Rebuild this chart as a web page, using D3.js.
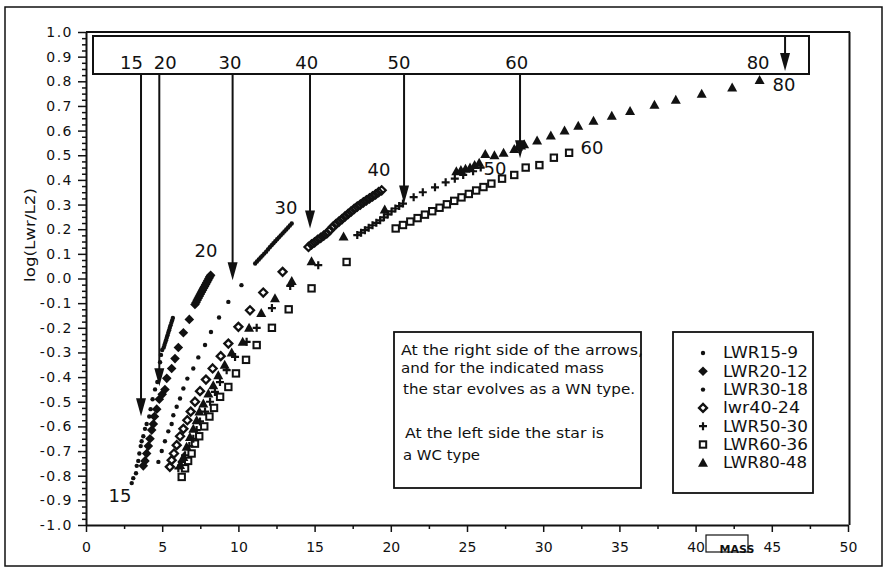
<!DOCTYPE html>
<html><head><meta charset="utf-8">
<script src="https://cdn.jsdelivr.net/npm/d3@7/dist/d3.min.js"></script>
<style>
body{margin:0;background:#fff;}
svg{display:block;}
text{font-family:"DejaVu Sans",sans-serif;fill:#111;}
</style></head><body>
<svg id="chart" width="886" height="570"></svg>
<script>
// ---------- data ----------
const xTicks = [0,5,10,15,20,25,30,35,40,45,50];
const xTickLabels = ["0","5","10","15","20","25","30","35","40","45","50"];
const yTicks = [-1.0,-0.9,-0.8,-0.7,-0.6,-0.5,-0.4,-0.3,-0.2,-0.1,0.0,0.1,0.2,0.3,0.4,0.5,0.6,0.7,0.8,0.9,1.0];
const yTickLabels = ["-1.0","-0.9","-0.8","-0.7","-0.6","-0.5","-0.4","-0.3","-0.2","-0.1","0.0","0.1","0.2","0.3","0.4","0.5","0.6","0.7","0.8","0.9","1.0"];
const seriesNames = ["LWR15-9","LWR20-12","LWR30-18","lwr40-24","LWR50-30","LWR60-36","LWR80-48"];

const lwr15_9 = [[3.0,-0.83],[3.1,-0.81],[3.28,-0.79],[3.33,-0.76],[3.43,-0.74],[3.5,-0.71],[3.59,-0.68],[3.65,-0.66],[3.76,-0.64],[3.87,-0.61],[3.98,-0.59],[4.15,-0.56],[4.24,-0.53],[4.37,-0.49],[4.53,-0.45],[4.68,-0.42],[4.80,-0.38],[4.86,-0.34],[4.92,-0.31],[5.0,-0.29],
  [5.10,-0.28],[5.15,-0.27],[5.20,-0.26],[5.25,-0.25],[5.30,-0.24],[5.35,-0.23],[5.40,-0.22],[5.45,-0.21],[5.50,-0.20],[5.55,-0.19],[5.60,-0.18],[5.65,-0.17],[5.70,-0.16]];
const lwr20_12 = [[3.76,-0.76],[3.87,-0.74],[3.98,-0.71],[4.09,-0.68],[4.2,-0.65],[4.31,-0.615],[4.42,-0.59],[4.49,-0.56],[4.64,-0.53],[4.81,-0.49],[5.0,-0.47],[5.18,-0.45],[5.3,-0.405],[5.62,-0.365],[5.84,-0.325],[6.06,-0.28],[6.39,-0.22],[6.78,-0.166],
  [7.15,-0.105],[7.22,-0.097],[7.29,-0.088],[7.36,-0.080],[7.43,-0.072],[7.50,-0.064],[7.57,-0.056],[7.64,-0.048],[7.71,-0.040],[7.78,-0.032],[7.85,-0.024],[7.92,-0.016],[7.99,-0.008],[8.06,0.000],[8.12,0.007],[8.18,0.013]];
const lwr30_18 = [[4.75,-0.744],[4.97,-0.70],[5.18,-0.66],[5.4,-0.62],[5.62,-0.59],[5.73,-0.555],[5.95,-0.52],[6.17,-0.487],[6.39,-0.446],[6.65,-0.406],[7.04,-0.365],[7.37,-0.32],[7.81,-0.27],[8.2,-0.217],[8.73,-0.158],[9.34,-0.095],[10.2,-0.027],
  [11.10,0.061],[11.22,0.069],[11.34,0.077],[11.46,0.085],[11.58,0.093],[11.70,0.101],[11.82,0.109],[11.94,0.118],[12.06,0.127],[12.18,0.135],[12.30,0.143],[12.42,0.151],[12.54,0.159],[12.66,0.167],[12.78,0.175],[12.90,0.183],[13.02,0.191],[13.14,0.199],[13.26,0.207],[13.38,0.215],[13.50,0.223]];
const lwr40_24 = [[5.5,-0.764],[5.62,-0.737],[5.77,-0.71],[5.95,-0.676],[6.17,-0.64],[6.39,-0.61],[6.65,-0.575],[6.87,-0.54],[7.15,-0.50],[7.48,-0.457],[7.87,-0.41],[8.31,-0.365],[8.84,-0.315],[9.34,-0.264],[10.0,-0.196],[10.76,-0.129],[11.63,-0.057],[12.9,0.027],
  [14.6,0.128],[14.8,0.138],[15.0,0.147],[15.2,0.157],[15.4,0.165],[15.6,0.174],[15.8,0.183],[16.0,0.196],[16.2,0.209],[16.4,0.221],[16.6,0.231],[16.8,0.241],[17.0,0.252],[17.2,0.262],[17.4,0.272],[17.6,0.282],[17.8,0.292],[18.0,0.300],[18.2,0.309],[18.4,0.317],[18.6,0.325],[18.8,0.333],[19.0,0.341],[19.2,0.350],[19.4,0.358]];
const lwr50_30 = [[6.06,-0.77],[6.28,-0.744],[6.5,-0.717],[6.78,-0.68],[7.04,-0.65],[7.26,-0.615],[7.48,-0.58],[7.81,-0.54],[8.14,-0.50],[8.46,-0.46],[8.79,-0.42],[9.23,-0.372],[9.78,-0.318],[10.54,-0.257],[11.2,-0.2],[12.2,-0.12],[13.4,-0.03],[15.24,0.054],
  [17.8,0.176],[18.05,0.186],[18.3,0.196],[18.55,0.206],[18.8,0.216],[19.05,0.226],[19.3,0.236],[19.55,0.248],[19.8,0.26],[20.05,0.272],[20.3,0.284],[20.55,0.294],[20.8,0.304],[21.5,0.33],[22.1,0.35],[22.9,0.37],[23.6,0.39],[24.2,0.405],[24.75,0.42],[25.4,0.435],[25.9,0.45]];
const lwr60_36 = [[6.28,-0.805],[6.5,-0.77],[6.7,-0.74],[6.93,-0.71],[7.15,-0.67],[7.43,-0.64],[7.76,-0.60],[8.1,-0.56],[8.4,-0.525],[8.8,-0.48],[9.34,-0.44],[9.84,-0.385],[10.5,-0.33],[11.2,-0.27],[12.2,-0.2],[13.3,-0.125],[14.8,-0.04],[17.1,0.067],
  [20.32,0.203],[20.8,0.217],[21.28,0.231],[21.76,0.245],[22.24,0.259],[22.72,0.273],[23.2,0.287],[23.68,0.301],[24.16,0.315],[24.64,0.329],[25.12,0.343],[25.6,0.357],[26.08,0.371],[26.6,0.385],[27.3,0.405],[28.1,0.42],[28.85,0.45],[29.75,0.46],[30.7,0.49],[31.7,0.51]];
const lwr80_48 = [[6.17,-0.757],[6.39,-0.724],[6.6,-0.683],[6.82,-0.643],[7.04,-0.61],[7.26,-0.575],[7.44,-0.54],[7.7,-0.507],[8.03,-0.467],[8.35,-0.433],[8.68,-0.392],[9.1,-0.35],[9.56,-0.30],[10.28,-0.257],[10.7,-0.2],[11.5,-0.14],[12.4,-0.08],[13.5,-0.01],[14.8,0.07],[16.9,0.17],[19.6,0.28],
  [24.3,0.435],[24.6,0.44],[24.9,0.445],[25.2,0.45],[25.5,0.46],[25.8,0.47],[26.2,0.505],[26.8,0.50],[27.4,0.51],[28.1,0.525],[28.35,0.535],[28.55,0.54],[28.75,0.545],[29.6,0.56],[30.5,0.58],[31.4,0.60],[32.3,0.62],[33.3,0.64],[34.5,0.66],[35.7,0.68],[37.3,0.705],[38.7,0.725],[40.4,0.75],[42.4,0.775],[44.2,0.805]];

// WN/WC transition arrows
const arrowLabels = ["15","20","30","40","50","60","80"];
const arrowMass = [3.61,4.81,9.62,14.70,20.87,28.48,45.87];
const arrowTip = [-0.559,-0.437,-0.007,0.203,0.304,0.488,0.842];
const arrowLabelMass = [2.99,5.2,9.45,14.48,20.54,28.26,44.1];
// track end labels
const trackLabels = ["15","20","30","40","50","60","80"];
const trackLabelMass = [2.23,7.87,13.12,19.23,26.84,33.2,45.8];
const trackLabelLog = [-0.879,0.115,0.289,0.441,0.447,0.533,0.788];

const noteLines = ["At the right side of the arrows,","and for the indicated mass","the star evolves as a WN type.","At the left side the star is","a WC type"];

// ---------- drawing ----------
const svg = d3.select("#chart");
const x = d3.scaleLinear().domain([0,50]).range([86,848]);
const y = d3.scaleLinear().domain([-1,1]).range([525,32]);
const ink = "#111";

// outer frame
svg.append("rect").attr("x",5).attr("y",7).attr("width",877).attr("height",559)
  .attr("fill","none").attr("stroke",ink).attr("stroke-width",1.5);

// plot frame top / right
svg.append("line").attr("x1",x(0)).attr("x2",x(50)+2).attr("y1",y(1)).attr("y2",y(1)).attr("stroke",ink).attr("stroke-width",2);
svg.append("line").attr("x1",x(50)+1.5).attr("x2",x(50)+1.5).attr("y1",y(1)).attr("y2",y(-1)).attr("stroke",ink).attr("stroke-width",2);

// y axis
const yMinor = d3.range(-1,1.0001,0.025).filter(v=>Math.abs(Math.round(v*10)-v*10)>1e-6);
svg.append("g").attr("transform",`translate(${x(0)},0)`)
  .call(d3.axisLeft(y).tickValues(yMinor).tickSize(4).tickSizeOuter(0).tickFormat(""))
  .call(g=>g.select(".domain").remove())
  .call(g=>g.selectAll("line").attr("stroke",ink).attr("stroke-width",1.5));
const gy = svg.append("g").attr("transform",`translate(${x(0)},0)`)
  .call(d3.axisLeft(y).tickValues(yTicks).tickSize(8).tickSizeOuter(0).tickPadding(5)
    .tickFormat((d,i)=>yTickLabels[i]));
gy.select(".domain").attr("stroke",ink).attr("stroke-width",2);
gy.selectAll("line").attr("stroke",ink).attr("stroke-width",1.5);
gy.selectAll("text").style("font-size","14px").style("letter-spacing","1.5px").attr("fill",ink);

// x axis
const xMinor = xTicks.slice(0,-1).map(v=>v+2.5);
svg.append("g").attr("transform",`translate(0,${y(-1)})`)
  .call(d3.axisBottom(x).tickValues(xMinor).tickSize(4).tickSizeOuter(0).tickFormat(""))
  .call(g=>g.select(".domain").remove())
  .call(g=>g.selectAll("line").attr("stroke",ink).attr("stroke-width",1.5));
const gx = svg.append("g").attr("transform",`translate(0,${y(-1)})`)
  .call(d3.axisBottom(x).tickValues(xTicks).tickSize(7).tickSizeOuter(0).tickPadding(10)
    .tickFormat((d,i)=>xTickLabels[i]));
gx.select(".domain").attr("stroke",ink).attr("stroke-width",2);
gx.selectAll("line").attr("stroke",ink).attr("stroke-width",1.5);
gx.selectAll("text").style("font-size","14px").attr("fill",ink);

// axis titles
svg.append("text").attr("transform","translate(35,235) rotate(-90)")
  .attr("text-anchor","middle").style("font-size","14px")
  .attr("textLength",94).attr("lengthAdjust","spacingAndGlyphs").text("log(Lwr/L2)");
svg.append("rect").attr("x",706).attr("y",535).attr("width",42).attr("height",17)
  .attr("fill","none").attr("stroke",ink).attr("stroke-width",1.2);
svg.append("text").attr("x",737).attr("y",553).attr("text-anchor","middle")
  .style("font-size","11px").style("font-weight","bold").text("MASS");

// symbols
function symbol(g, type, px, py){
  if(type==="dot"){
    g.append("circle").attr("cx",px).attr("cy",py).attr("r",2.2).attr("fill",ink);
  } else if(type==="diamond"){
    g.append("path").attr("d",`M${px},${py-4.8}L${px+4.8},${py}L${px},${py+4.8}L${px-4.8},${py}Z`).attr("fill",ink);
  } else if(type==="odiamond"){
    g.append("path").attr("d",`M${px},${py-4}L${px+4},${py}L${px},${py+4}L${px-4},${py}Z`).attr("fill","none").attr("stroke",ink).attr("stroke-width",2.3);
  } else if(type==="plus"){
    g.append("path").attr("d",`M${px-4},${py}H${px+4}M${px},${py-4}V${py+4}`).attr("stroke",ink).attr("stroke-width",2.2);
  } else if(type==="square"){
    g.append("rect").attr("x",px-3.2).attr("y",py-3.2).attr("width",6.4).attr("height",6.4).attr("fill","none").attr("stroke",ink).attr("stroke-width",2);
  } else if(type==="triangle"){
    g.append("path").attr("d",`M${px},${py-5}L${px+5},${py+4}L${px-5},${py+4}Z`).attr("fill",ink);
  }
}
const series = [
  {name:seriesNames[0], data:lwr15_9, type:"dot"},
  {name:seriesNames[1], data:lwr20_12, type:"diamond"},
  {name:seriesNames[2], data:lwr30_18, type:"dot"},
  {name:seriesNames[3], data:lwr40_24, type:"odiamond"},
  {name:seriesNames[4], data:lwr50_30, type:"plus"},
  {name:seriesNames[5], data:lwr60_36, type:"square"},
  {name:seriesNames[6], data:lwr80_48, type:"triangle"}
];
const gData = svg.append("g");
series.forEach(s=>{
  const g = gData.append("g").attr("class","series");
  s.data.forEach(d=>symbol(g, s.type, x(d[0]), y(d[1])));
});

// top box with arrows
const boxTop = 36, boxBot = 74;
svg.append("rect").attr("x",93).attr("y",boxTop).attr("width",716).attr("height",boxBot-boxTop)
  .attr("fill","none").attr("stroke",ink).attr("stroke-width",2);
arrowMass.forEach((m,i)=>{
  const px = x(m), tip = y(arrowTip[i]);
  const start = (i===arrowMass.length-1) ? boxTop : boxBot;
  svg.append("line").attr("x1",px).attr("x2",px).attr("y1",start).attr("y2",tip-14)
    .attr("stroke",ink).attr("stroke-width",2);
  svg.append("path").attr("d",`M${px-5},${tip-18}L${px+5},${tip-18}L${px},${tip}Z`).attr("fill",ink);
  svg.append("text").attr("x",x(arrowLabelMass[i])).attr("y",63).attr("dy","0.36em")
    .attr("text-anchor","middle").style("font-size","18px").text(arrowLabels[i]);
});

// track labels
trackLabels.forEach((t,i)=>{
  svg.append("text").attr("x",x(trackLabelMass[i])).attr("y",y(trackLabelLog[i])).attr("dy","0.36em")
    .attr("text-anchor","middle").style("font-size","18px").text(t);
});

// note box
svg.append("rect").attr("x",394).attr("y",332).attr("width",247).attr("height",156)
  .attr("fill","#fff").attr("stroke",ink).attr("stroke-width",1.8);
const noteY = [350,368,389,433,455];
const noteX = [401,401,403,405,403];
const noteW = [242,203,232,199,77];
noteLines.forEach((t,i)=>{
  svg.append("text").attr("x",noteX[i]).attr("y",noteY[i]).attr("dy","0.34em")
    .style("font-size","14px").attr("textLength",noteW[i]).attr("lengthAdjust","spacingAndGlyphs").text(t);
});

// legend
svg.append("rect").attr("x",673).attr("y",332).attr("width",140).attr("height",161)
  .attr("fill","#fff").attr("stroke",ink).attr("stroke-width",1.8);
const legW = [75,85,85,77,85,85,84];
series.forEach((s,i)=>{
  const ly = 353 + i*18.3;
  const g = svg.append("g");
  symbol(g, s.type, 703, ly);
  svg.append("text").attr("x",723).attr("y",ly).attr("dy","0.36em").style("font-size","15px")
    .attr("textLength",legW[i]).attr("lengthAdjust","spacingAndGlyphs").text(s.name);
});
</script>
</body></html>
